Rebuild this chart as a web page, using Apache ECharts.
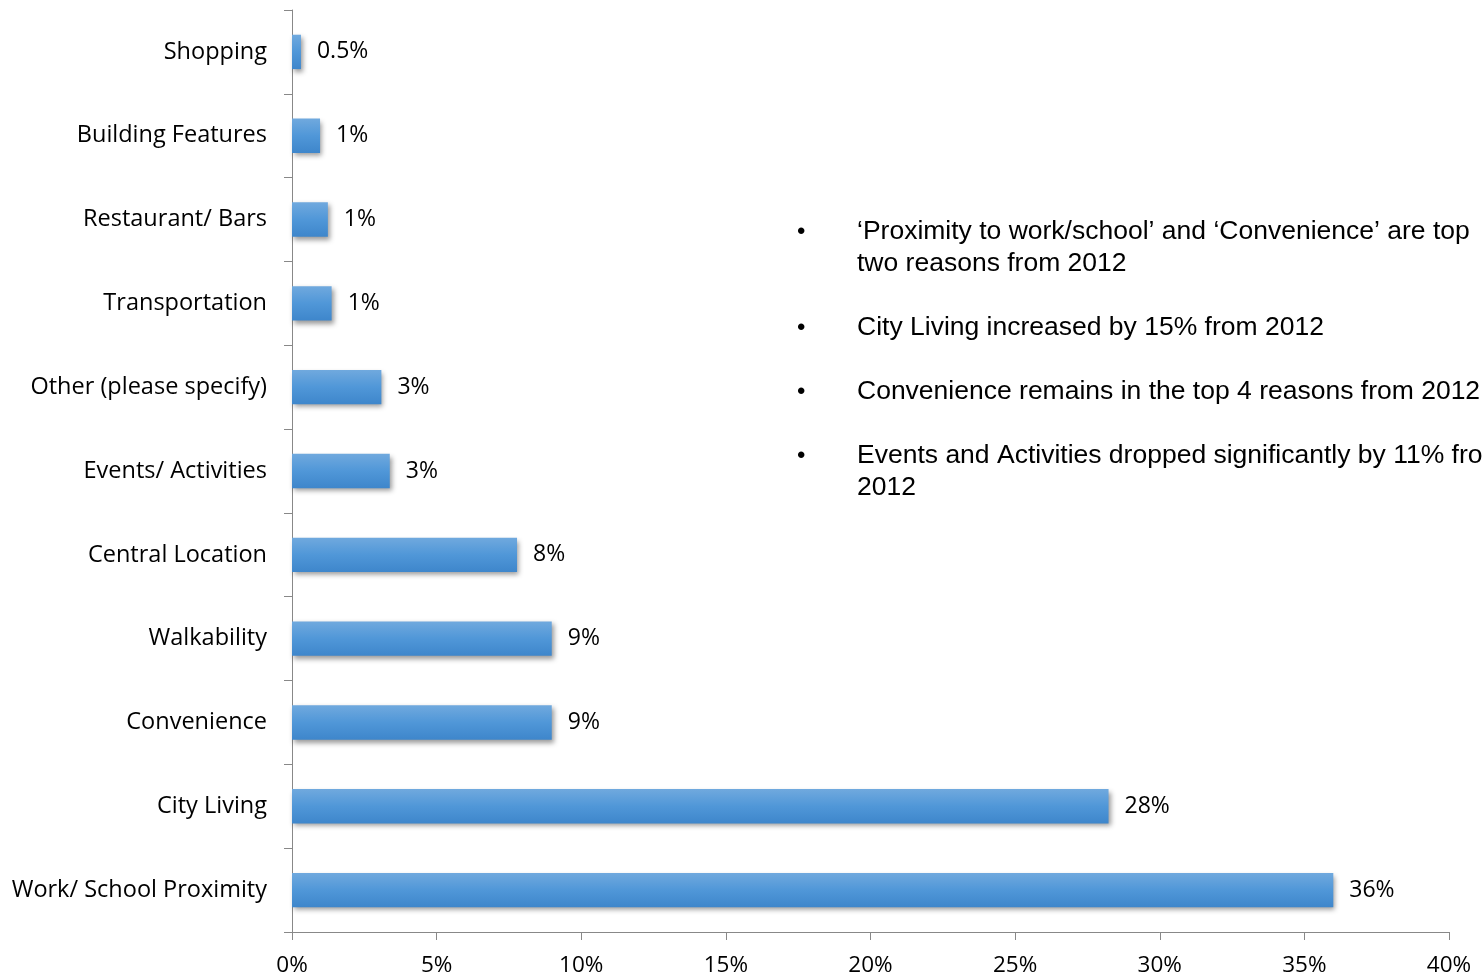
<!DOCTYPE html>
<html>
<head>
<meta charset="utf-8">
<script src="https://cdn.jsdelivr.net/npm/echarts@6/dist/echarts.min.js"></script>
<style>
html,body{margin:0;padding:0;background:#fff;}
#c{width:1484px;height:978px;}
</style>
</head>
<body>
<div id="c"></div>
<script>
const categories = ['Shopping','Building Features','Restaurant/ Bars','Transportation','Other (please specify)','Events/ Activities','Central Location','Walkability','Convenience','City Living','Work/ School Proximity'];
const values = [0.31, 0.97, 1.24, 1.37, 3.09, 3.38, 7.78, 8.98, 8.98, 28.23, 36.0];
const valueLabels = ['0.5%','1%','1%','1%','3%','3%','8%','9%','9%','28%','36%'];
const xTicks = [0,5,10,15,20,25,30,35,40];
const bullets = [
  ["\u2018Proximity to work/school\u2019 and \u2018Convenience\u2019 are top", "two reasons from 2012"],
  ["City Living increased by 15% from 2012"],
  ["Convenience remains in the top 4 reasons from 2012"],
  ["Events and Activities dropped significantly by 11% from", "2012"]
];
const bulletY = [231, 327, 391, 455];

const chart = echarts.init(document.getElementById('c'), null, {renderer:'canvas'});
const labelFont = '"Open Sans", Lato, sans-serif';
const graphics = [];
bullets.forEach((lines, i) => {
  graphics.push({type:'text', left:797, top: bulletY[i]-11, style:{text:'\u2022', font:'24px "Liberation Sans", Arial, sans-serif', fill:'#000'}});
  graphics.push({type:'text', left:857, top: bulletY[i]-15, style:{text: lines.join('\n'), font:'26.5px "Liberation Sans", Arial, sans-serif', fill:'#000', lineHeight:32}});
});

chart.setOption({
  animation:false,
  backgroundColor:'#fff',
  grid:{left:292, right:35, top:10, bottom:46, containLabel:false},
  xAxis:{
    type:'value', min:xTicks[0], max:xTicks[xTicks.length-1], interval:5,
    axisLine:{show:true, lineStyle:{color:'#888', width:1}},
    axisTick:{show:true, length:8, lineStyle:{color:'#888'}},
    splitLine:{show:false},
    axisLabel:{formatter: v => v + '%', fontFamily:labelFont, fontSize:22.5, color:'#000', margin:22}
  },
  yAxis:{
    type:'category', data:categories, inverse:true,
    axisLine:{show:true, lineStyle:{color:'#888', width:1}},
    axisTick:{show:true, length:8, alignWithLabel:false, lineStyle:{color:'#888'}},
    axisLabel:{fontFamily:labelFont, fontSize:23.5, color:'#000', margin:25, padding:[5,0,0,0]}
  },
  series:[{
    type:'bar', data:values, barWidth:'41%',
    itemStyle:{
      color:new echarts.graphic.LinearGradient(0,0,0,1,[{offset:0,color:'#70a9de'},{offset:0.5,color:'#5097d8'},{offset:1,color:'#3e86cb'}]),
      shadowColor:'rgba(0,0,0,0.4)', shadowBlur:5, shadowOffsetX:2, shadowOffsetY:3
    },
    label:{show:true, position:'right', distance:16, formatter: p => valueLabels[p.dataIndex], fontFamily:labelFont, fontSize:23, color:'#000', padding:[5,0,0,0]}
  }],
  graphic: graphics
});
</script>
</body>
</html>
